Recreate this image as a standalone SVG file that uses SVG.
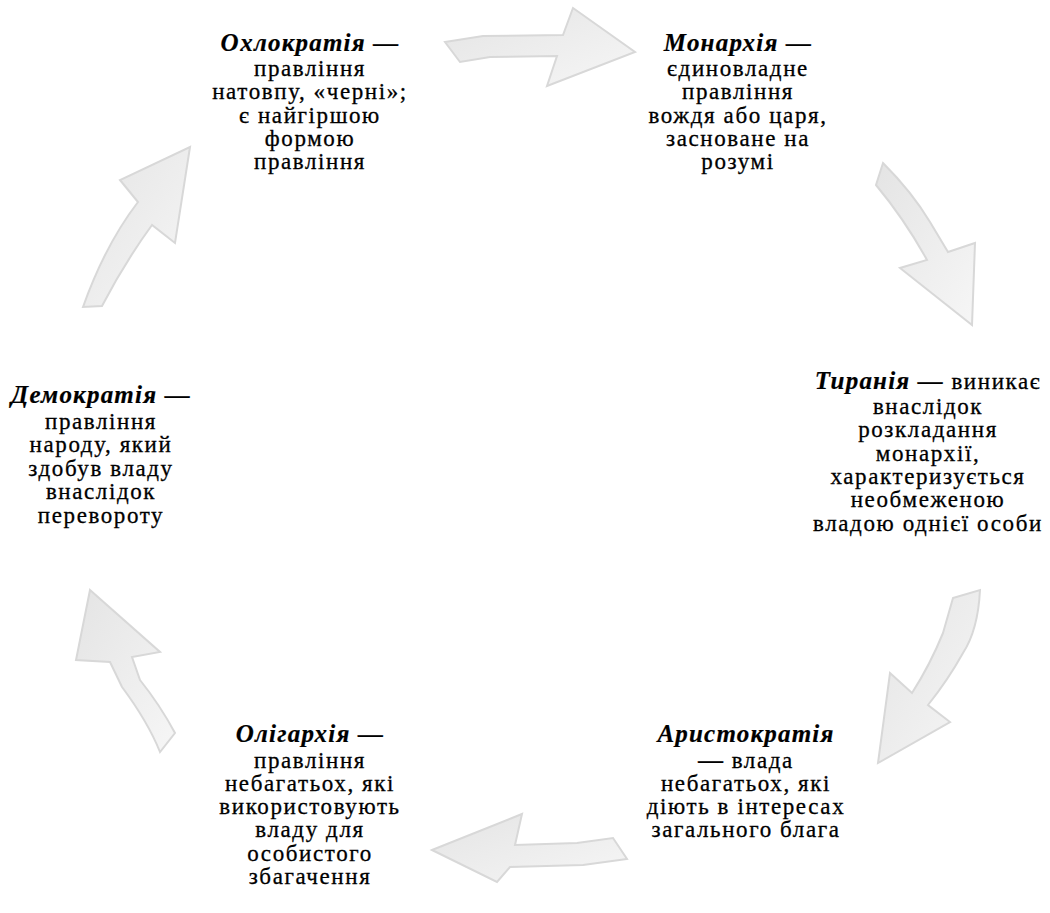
<svg xmlns="http://www.w3.org/2000/svg" width="1050" height="913" viewBox="0 0 1050 913">
<defs>
<linearGradient id="g" x1="0" y1="0" x2="1" y2="1">
<stop offset="0" stop-color="#e4e4e4"/>
<stop offset="1" stop-color="#f6f6f6"/>
</linearGradient>
<style>
.arr{fill:url(#g);stroke:#d8d8d8;stroke-width:2;stroke-linejoin:miter}
.t{font-family:'Liberation Serif','Times New Roman',Times,serif;font-size:23px;letter-spacing:1.6px;fill:#000;stroke:#000;stroke-width:0.3px;text-anchor:middle}
.h{font-weight:bold;font-style:italic;font-size:25px;letter-spacing:1.2px;stroke-width:0.2px}
</style>
</defs>
<rect width="1050" height="913" fill="#fff"/>
<g id="connectors">
<path class="arr" d="M445,42 L483,36 L563,35 L573,8 L635,52 L547,86 L557,56 L490,57 L460,62 Z"/>
<path class="arr" d="M883,163 Q912,192 930,222 L948,252 L975,243 L972,325 L900,268 L927,260 Q905,220 876,185 Z"/>
<path class="arr" d="M953,598 L980,590 Q978,630 963,653 Q948,680 928,705 L950,722 L878,763 L890,673 L912,693 Q930,665 943,633 Z"/>
<path class="arr" d="M432,850 L522,814 L515,845 L577,843 L613,838 L627,859 L583,865 L510,867 L497,882 Z"/>
<path class="arr" d="M90,590 L160,652 L132,657 L140,680 Q160,705 175,733 L160,752 Q148,722 122,687 L110,662 L76,660 Z"/>
<path class="arr" d="M190,147 L175,243 L152,225 Q125,262 102,306 L83,307 Q105,245 138,202 L120,180 Z"/>
</g>
<g id="ochlocracy">
<text class="t" x="310" y="51"><tspan class="h">Охлократія —</tspan><tspan x="310" dy="25">правління</tspan><tspan x="310" dy="23.3">натовпу, «черні»;</tspan><tspan x="310" dy="23.3">є найгіршою</tspan><tspan x="310" dy="23.3">формою</tspan><tspan x="310" dy="23.3">правління</tspan></text>
</g>
<g id="monarchy">
<text class="t" x="738" y="51"><tspan class="h">Монархія —</tspan><tspan x="738" dy="25">єдиновладне</tspan><tspan x="738" dy="23.3">правління</tspan><tspan x="738" dy="23.3">вождя або царя,</tspan><tspan x="738" dy="23.3">засноване на</tspan><tspan x="738" dy="23.3">розумі</tspan></text>
</g>
<g id="tyranny">
<text class="t" x="928" y="389"><tspan class="h">Тиранія —</tspan><tspan> виникає</tspan><tspan x="928" dy="25">внаслідок</tspan><tspan x="928" dy="23.3">розкладання</tspan><tspan x="928" dy="23.3">монархії,</tspan><tspan x="928" dy="23.3">характеризується</tspan><tspan x="928" dy="23.3">необмеженою</tspan><tspan x="928" dy="23.3">владою однієї особи</tspan></text>
</g>
<g id="aristocracy">
<text class="t" x="746" y="742"><tspan class="h">Аристократія</tspan><tspan x="746" dy="25.5"><tspan class="h">—</tspan> влада</tspan><tspan x="746" dy="23.3">небагатьох, які</tspan><tspan x="746" dy="23.3">діють в інтересах</tspan><tspan x="746" dy="23.3">загального блага</tspan></text>
</g>
<g id="oligarchy">
<text class="t" x="310" y="742"><tspan class="h">Олігархія —</tspan><tspan x="310" dy="25.5">правління</tspan><tspan x="310" dy="23.3">небагатьох, які</tspan><tspan x="310" dy="23.3">використовують</tspan><tspan x="310" dy="23.3">владу для</tspan><tspan x="310" dy="23.3">особистого</tspan><tspan x="310" dy="23.3">збагачення</tspan></text>
</g>
<g id="democracy">
<text class="t" x="101" y="403"><tspan class="h">Демократія —</tspan><tspan x="101" dy="25.5">правління</tspan><tspan x="101" dy="23.5">народу, який</tspan><tspan x="101" dy="23.5">здобув владу</tspan><tspan x="101" dy="23.5">внаслідок</tspan><tspan x="101" dy="23.5">перевороту</tspan></text>
</g>
</svg>
